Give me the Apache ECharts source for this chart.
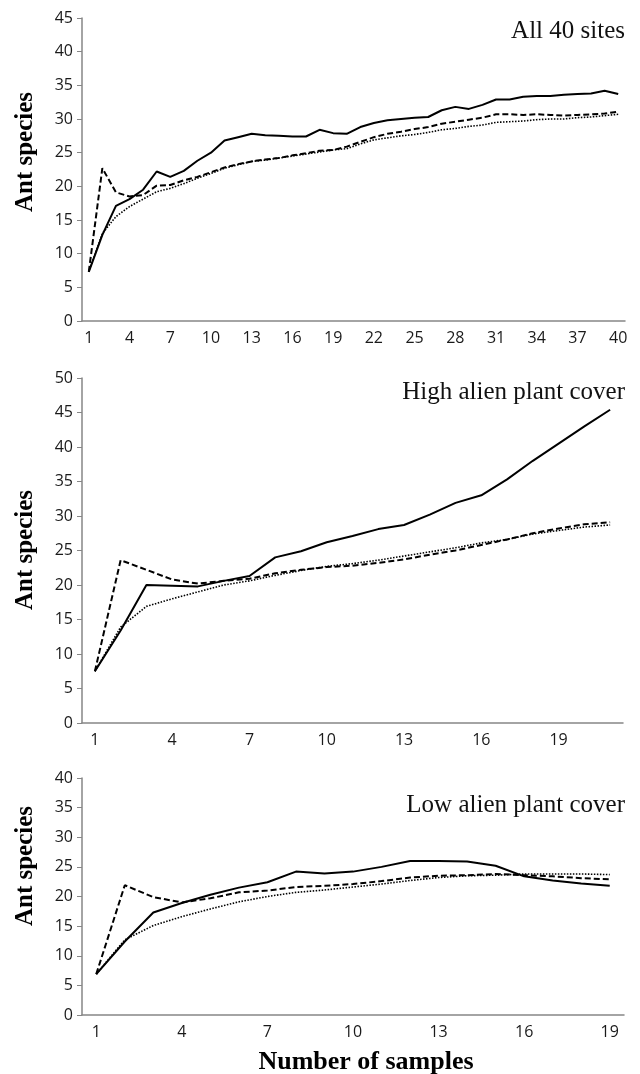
<!DOCTYPE html>
<html>
<head>
<meta charset="utf-8">
<script src="https://cdn.jsdelivr.net/npm/echarts@6/dist/echarts.min.js"></script>
<style>
  html, body { margin: 0; padding: 0; background: #fff; }
  #main { width: 640px; height: 1074px; }
</style>
</head>
<body>
<div id="main"></div>
<script>
// 数据：三个面板，每个面板三条曲线（实线、虚线、点线）
var panelTitles = ['All 40 sites', 'High alien plant cover', 'Low alien plant cover'];

var allSolid = [7.3, 12.8, 17.1, 18.1, 19.5, 22.2, 21.4, 22.3, 23.8, 25.0,
    26.8, 27.3, 27.8, 27.6, 27.5, 27.4, 27.4, 28.4, 27.9, 27.8,
    28.8, 29.4, 29.8, 30.0, 30.2, 30.3, 31.3, 31.8, 31.5, 32.1,
    32.9, 32.9, 33.3, 33.4, 33.4, 33.6, 33.7, 33.8, 34.2, 33.7];
var allDashed = [7.3, 22.7, 19.1, 18.5, 18.7, 20.1, 20.2, 20.9, 21.4, 22.1,
    22.8, 23.3, 23.7, 24.0, 24.2, 24.6, 24.9, 25.3, 25.4, 25.9,
    26.6, 27.3, 27.8, 28.1, 28.5, 28.8, 29.3, 29.6, 29.9, 30.2,
    30.7, 30.7, 30.6, 30.7, 30.6, 30.5, 30.6, 30.7, 30.8, 31.1];
var allDotted = [7.3, 13.0, 15.5, 17.0, 18.1, 19.2, 19.7, 20.4, 21.2, 21.9,
    22.7, 23.2, 23.7, 23.9, 24.2, 24.5, 24.8, 25.1, 25.4, 25.6,
    26.3, 26.9, 27.2, 27.5, 27.7, 28.0, 28.4, 28.6, 28.9, 29.1,
    29.5, 29.6, 29.7, 29.9, 30.0, 30.0, 30.2, 30.3, 30.5, 30.7];

var highSolid = [7.5, 13.4, 20.0, 19.9, 19.8, 20.6, 21.3, 24.0, 24.9, 26.2,
    27.1, 28.1, 28.7, 30.2, 31.9, 33.0, 35.3, 38.0, 40.5, 43.0, 45.4];
var highDashed = [7.5, 23.6, 22.2, 20.8, 20.2, 20.6, 20.9, 21.7, 22.2, 22.6,
    22.8, 23.2, 23.7, 24.4, 25.0, 25.8, 26.6, 27.5, 28.2, 28.8, 29.1];
var highDotted = [7.5, 13.9, 16.9, 18.0, 19.0, 20.0, 20.6, 21.4, 22.1, 22.7,
    23.1, 23.6, 24.2, 24.8, 25.4, 26.1, 26.6, 27.4, 27.9, 28.4, 28.7];

var lowSolid = [6.9, 12.4, 17.3, 18.9, 20.3, 21.5, 22.4, 24.2, 23.9, 24.2,
    25.0, 26.0, 26.0, 25.9, 25.2, 23.4, 22.7, 22.2, 21.8];
var lowDashed = [6.9, 21.9, 19.9, 19.0, 19.7, 20.7, 21.0, 21.6, 21.8, 22.1,
    22.6, 23.2, 23.5, 23.6, 23.8, 23.6, 23.4, 23.1, 22.9];
var lowDotted = [6.9, 12.7, 15.1, 16.6, 17.9, 19.1, 20.0, 20.7, 21.1, 21.6,
    22.1, 22.7, 23.2, 23.5, 23.6, 23.8, 23.8, 23.8, 23.7];

var yMax = [45, 50, 40];

function cats(n) {
    var arr = [];
    for (var i = 1; i <= n; i++) arr.push(String(i));
    return arr;
}

var panels = [
    { solid: allSolid, dashed: allDashed, dotted: allDotted },
    { solid: highSolid, dashed: highDashed, dotted: highDotted },
    { solid: lowSolid, dashed: lowDashed, dotted: lowDotted }
];

// 布局
var grids = [
    { left: 82, right: 15, top: 18, height: 303 },
    { left: 82, right: 17, top: 378, height: 345 },
    { left: 82, right: 16, top: 778, height: 237 }
];

var axisGray = '#868686';
var labelFont = { color: '#1a1a1a', fontSize: 16, fontFamily: 'Open Sans' };

var xAxes = [], yAxes = [], series = [];
panels.forEach(function (p, i) {
    xAxes.push({
        type: 'category',
        gridIndex: i,
        data: cats(p.solid.length),
        boundaryGap: true,
        axisLine: { lineStyle: { color: axisGray, width: 1.5 } },
        axisTick: { interval: 0, length: 5, lineStyle: { color: axisGray } },
        axisLabel: Object.assign({ interval: 2, margin: 9 }, labelFont),
        splitLine: { show: false }
    });
    yAxes.push({
        type: 'value',
        gridIndex: i,
        min: 0,
        max: yMax[i],
        interval: 5,
        axisLine: { show: true, lineStyle: { color: axisGray, width: 1.5 } },
        axisTick: { show: true, length: 5, lineStyle: { color: axisGray } },
        axisLabel: Object.assign({ margin: 9 }, labelFont),
        splitLine: { show: false }
    });
    series.push({
        type: 'line', xAxisIndex: i, yAxisIndex: i, data: p.dotted,
        symbol: 'none', silent: true,
        lineStyle: { color: '#000', width: 1.6, type: [1.5, 1.5] }
    });
    series.push({
        type: 'line', xAxisIndex: i, yAxisIndex: i, data: p.dashed,
        symbol: 'none', silent: true,
        lineStyle: { color: '#000', width: 2, type: [6, 3] }
    });
    series.push({
        type: 'line', xAxisIndex: i, yAxisIndex: i, data: p.solid,
        symbol: 'none', silent: true,
        lineStyle: { color: '#000', width: 2 }
    });
});

var titleY = [31, 392, 805];
var nameY = [152, 550, 866];
var graphics = [];
panelTitles.forEach(function (t, i) {
    graphics.push({
        type: 'text', x: 625, y: titleY[i],
        style: { text: t, font: '25px "Liberation Serif"', fill: '#111', textAlign: 'right', textVerticalAlign: 'middle' }
    });
    graphics.push({
        type: 'text', x: 26, y: nameY[i], rotation: Math.PI / 2,
        style: { text: 'Ant species', font: 'bold 25px "Liberation Serif"', fill: '#000', textAlign: 'center', textVerticalAlign: 'middle' }
    });
});
graphics.push({
    type: 'text', x: 366, y: 1062,
    style: { text: 'Number of samples', font: 'bold 26px "Liberation Serif"', fill: '#000', textAlign: 'center', textVerticalAlign: 'middle' }
});

var myChart = echarts.init(document.getElementById('main'));
myChart.setOption({
    animation: false,
    backgroundColor: '#fff',
    grid: grids,
    xAxis: xAxes,
    yAxis: yAxes,
    series: series,
    graphic: graphics
});
</script>
</body>
</html>
